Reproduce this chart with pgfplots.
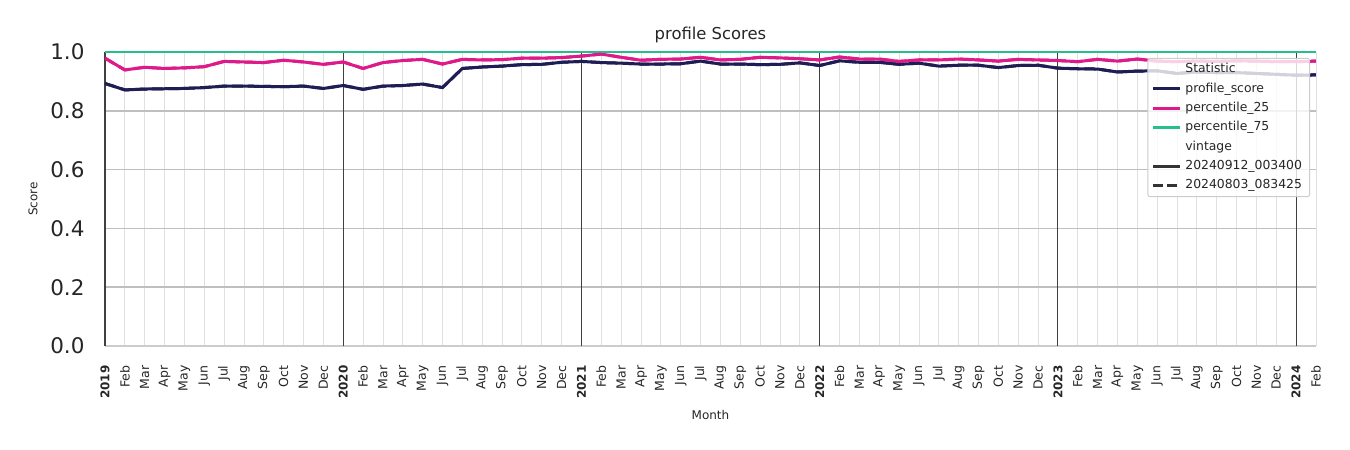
\documentclass[border=0pt]{standalone}
\usepackage{fontspec}
\setmainfont{DejaVu Sans}
\usepackage{pgfplots}
\usepackage{pgfplotstable}
\pgfplotsset{compat=1.18}

\definecolor{navy}{RGB}{30,30,85}
\definecolor{magenta}{RGB}{222,25,138}
\definecolor{teal}{RGB}{38,190,140}
\definecolor{txt}{RGB}{38,38,38}

% month index (0 = Jan 2019), value per statistic
\pgfplotstableread{
i  profile p25   p75
0  0.893 0.979 1.0
1  0.871 0.939 1.0
2  0.874 0.948 1.0
3  0.875 0.944 1.0
4  0.876 0.946 1.0
5  0.879 0.950 1.0
6  0.884 0.968 1.0
7  0.884 0.966 1.0
8  0.883 0.964 1.0
9  0.882 0.972 1.0
10 0.884 0.966 1.0
11 0.876 0.958 1.0
12 0.886 0.966 1.0
13 0.873 0.944 1.0
14 0.884 0.964 1.0
15 0.886 0.971 1.0
16 0.891 0.975 1.0
17 0.879 0.959 1.0
18 0.944 0.975 1.0
19 0.949 0.973 1.0
20 0.952 0.974 1.0
21 0.957 0.979 1.0
22 0.958 0.979 1.0
23 0.965 0.981 1.0
24 0.968 0.986 1.0
25 0.964 0.993 1.0
26 0.962 0.982 1.0
27 0.959 0.972 1.0
28 0.959 0.975 1.0
29 0.960 0.976 1.0
30 0.969 0.982 1.0
31 0.959 0.973 1.0
32 0.959 0.975 1.0
33 0.957 0.982 1.0
34 0.958 0.980 1.0
35 0.963 0.977 1.0
36 0.954 0.973 1.0
37 0.970 0.983 1.0
38 0.965 0.976 1.0
39 0.965 0.976 1.0
40 0.958 0.968 1.0
41 0.962 0.973 1.0
42 0.952 0.973 1.0
43 0.955 0.976 1.0
44 0.955 0.973 1.0
45 0.947 0.969 1.0
46 0.954 0.975 1.0
47 0.955 0.973 1.0
48 0.945 0.971 1.0
49 0.943 0.967 1.0
50 0.942 0.975 1.0
51 0.932 0.969 1.0
52 0.935 0.976 1.0
53 0.936 0.969 1.0
54 0.927 0.967 1.0
55 0.932 0.969 1.0
56 0.930 0.968 1.0
57 0.930 0.970 1.0
58 0.927 0.969 1.0
59 0.924 0.967 1.0
60 0.921 0.967 1.0
61 0.922 0.969 1.0
}\scores

\begin{document}
\begin{tikzpicture}
\path[use as bounding box] (0,0) rectangle (1350pt,450pt);
\begin{axis}[
  at={(105pt,104pt)}, anchor=south west,
  width=1211pt, height=294pt, scale only axis,
  xmin=0, xmax=61, ymin=0, ymax=1,
  axis x line*=bottom, axis y line*=left,
  x axis line style={draw=black!20, line width=2pt, -},
  y axis line style={draw=black!75, line width=1.2pt, -},
  tick style={draw=none},
  xtick={1,2,3,4,5,6,7,8,9,10,11,13,14,15,16,17,18,19,20,21,22,23,25,26,27,28,29,30,31,32,33,34,35,37,38,39,40,41,42,43,44,45,46,47,49,50,51,52,53,54,55,56,57,58,59,61},
  xticklabels={Feb,Mar,Apr,May,Jun,Jul,Aug,Sep,Oct,Nov,Dec,Feb,Mar,Apr,May,Jun,Jul,Aug,Sep,Oct,Nov,Dec,Feb,Mar,Apr,May,Jun,Jul,Aug,Sep,Oct,Nov,Dec,Feb,Mar,Apr,May,Jun,Jul,Aug,Sep,Oct,Nov,Dec,Feb,Mar,Apr,May,Jun,Jul,Aug,Sep,Oct,Nov,Dec,Feb},
  extra x ticks={0,12,24,36,48,60},
  extra x tick labels={2019,2020,2021,2022,2023,2024},
  extra x tick style={grid=major, major grid style={draw=black!75, line width=1pt},
    xticklabel style={font=\fontsize{12}{14}\selectfont\bfseries}},
  xmajorgrids, ymajorgrids,
  major grid style={draw=black!12, line width=0.8pt},
  y grid style={draw=black!25, line width=1.5pt},
  xticklabel style={yshift=-16pt, rotate=90, anchor=east, text=txt,
    font=\fontsize{12.5}{14}\selectfont},
  ytick={0,0.2,0.4,0.6,0.8,1.0},
  yticklabel style={xshift=-17pt, text=txt, font=\fontsize{21.5}{25}\selectfont,
    /pgf/number format/.cd, fixed, fixed zerofill, precision=1, assume math mode=true},
  title={profile Scores},
  title style={at={(axis description cs:0.5,1.0646)}, anchor=center, yshift=-8pt, text=txt,
    font=\fontsize{16.4}{19}\selectfont},
  xlabel={Month},
  xlabel style={at={(axis description cs:0.5,-0.2347)}, anchor=center, text=txt,
    font=\fontsize{12}{14}\selectfont},
  ylabel={Score},
  ylabel style={at={(axis description cs:-0.0595,0.5)}, anchor=center, text=txt,
    font=\fontsize{12}{14}\selectfont},
  legend cell align=left,
  legend image code/.code={\draw[#1] (0pt,0pt) -- (27pt,0pt);},
  legend style={at={(0.9951,0.9796)}, anchor=north east,
    fill=white, fill opacity=0.8, draw opacity=1, text opacity=1,
    draw=black!20, line width=1pt, rounded corners=2pt, inner xsep=4pt, inner ysep=1.5pt,
    font=\fontsize{12.4}{14}\selectfont, text=txt,
    nodes={inner sep=3.5pt, text height=9.5pt, text depth=2.8pt}},
]
% vintage 20240912_003400 (solid)
\addplot[navy, line width=3pt, line join=round, forget plot] table[x=i, y=profile] {\scores};
\addplot[magenta, line width=3pt, line join=round, forget plot] table[x=i, y=p25] {\scores};
\addplot[teal, line width=2.5pt, line join=round, forget plot] table[x=i, y=p75] {\scores};
% vintage 20240803_083425 (dashed)
\addplot[navy, line width=3pt, dash pattern=on 11pt off 5pt, forget plot] table[x=i, y=profile] {\scores};
\addplot[magenta, line width=3pt, dash pattern=on 11pt off 5pt, forget plot] table[x=i, y=p25] {\scores};
\addplot[teal, line width=2.5pt, dash pattern=on 11pt off 5pt, forget plot] table[x=i, y=p75] {\scores};

\addlegendimage{empty legend}
\addlegendentry{Statistic}
\addlegendimage{navy, line width=3pt}
\addlegendentry{profile\_score}
\addlegendimage{magenta, line width=3pt}
\addlegendentry{percentile\_25}
\addlegendimage{teal, line width=3pt}
\addlegendentry{percentile\_75}
\addlegendimage{empty legend}
\addlegendentry{vintage}
\addlegendimage{black!80, line width=3pt}
\addlegendentry{20240912\_003400}
\addlegendimage{black!80, line width=3pt, dash pattern=on 10pt off 4pt}
\addlegendentry{20240803\_083425}
\end{axis}
\end{tikzpicture}
\end{document}
